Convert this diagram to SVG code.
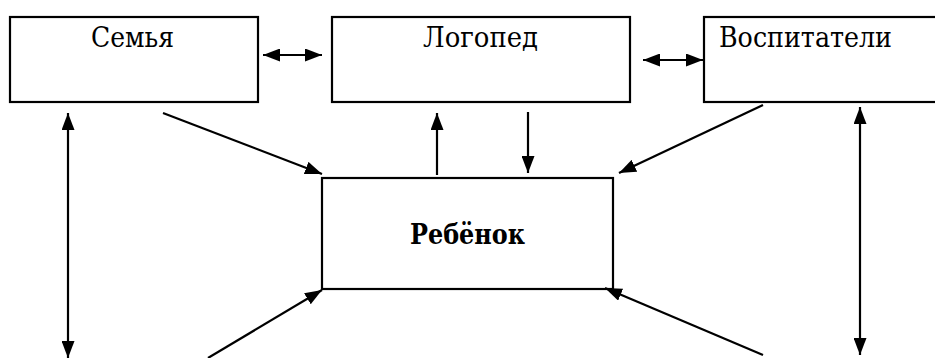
<svg xmlns="http://www.w3.org/2000/svg" width="935" height="358" viewBox="0 0 935 358">
<style>
.box{fill:#fff;stroke:#000;stroke-width:2.2}
text{font-family:'DejaVu Serif',serif;font-size:28px;fill:#000}
.con line{stroke:#000;stroke-width:2.2}
</style>
<defs>
<marker id="ah" viewBox="0 0 17 13" refX="17" refY="6.5" markerWidth="17" markerHeight="13" markerUnits="userSpaceOnUse" orient="auto-start-reverse">
<path d="M0,0 L17,6.5 L0,13 Z" fill="#000"/>
</marker>
</defs>
<rect width="935" height="358" fill="#fff"/>
<g id="semya">
<rect class="box" x="10" y="17" width="248" height="85"/>
<text x="91" y="47" textLength="83" lengthAdjust="spacingAndGlyphs">Семья</text>
</g>
<g id="logoped">
<rect class="box" x="332" y="17" width="298" height="85"/>
<text x="423" y="47" textLength="115" lengthAdjust="spacingAndGlyphs">Логопед</text>
</g>
<g id="vospitateli">
<rect class="box" x="704" y="17" width="240" height="85"/>
<text x="719" y="47" textLength="173" lengthAdjust="spacingAndGlyphs">Воспитатели</text>
</g>
<g id="rebenok">
<rect class="box" x="322" y="178" width="291" height="111"/>
<text x="410" y="244" textLength="115" lengthAdjust="spacingAndGlyphs" font-weight="bold">Ребёнок</text>
</g>
<g class="con" id="connectors">
<line x1="263" y1="55" x2="322" y2="55" marker-start="url(#ah)" marker-end="url(#ah)"/>
<line x1="643" y1="60" x2="703" y2="60" marker-start="url(#ah)" marker-end="url(#ah)"/>
<line x1="437" y1="175" x2="437" y2="113" marker-end="url(#ah)"/>
<line x1="528" y1="112" x2="528" y2="173" marker-end="url(#ah)"/>
<line x1="163" y1="113" x2="322" y2="174" marker-end="url(#ah)"/>
<line x1="763" y1="105" x2="619" y2="173" marker-end="url(#ah)"/>
<line x1="68" y1="113" x2="68" y2="358" marker-start="url(#ah)" marker-end="url(#ah)"/>
<line x1="860" y1="107" x2="860" y2="355" marker-start="url(#ah)" marker-end="url(#ah)"/>
<line x1="208" y1="358" x2="322" y2="290" marker-end="url(#ah)"/>
<line x1="763" y1="355" x2="605" y2="288" marker-end="url(#ah)"/>
</g>
</svg>
